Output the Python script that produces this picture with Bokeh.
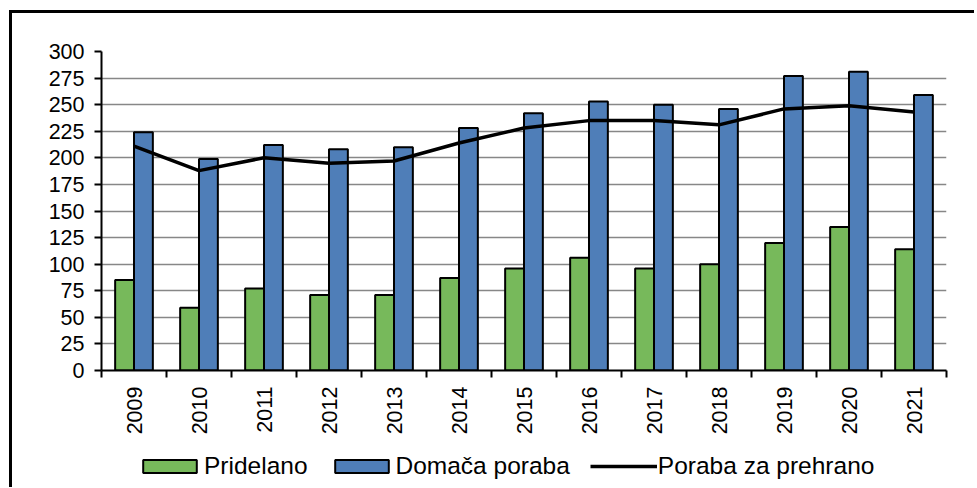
import math
from bokeh.plotting import figure
from bokeh.layouts import column
from bokeh.models import ColumnDataSource, FixedTicker, Legend, LegendItem
from bokeh.embed import file_html
from bokeh.resources import INLINE

years = ["2009", "2010", "2011", "2012", "2013", "2014", "2015", "2016", "2017", "2018", "2019", "2020", "2021"]
pridelano = [85, 59, 77, 71, 71, 87, 96, 106, 96, 100, 120, 135, 114]
domaca_poraba = [224, 199, 212, 208, 210, 228, 242, 253, 250, 246, 277, 281, 259]
poraba_za_prehrano = [211, 188, 200, 195, 197, 214, 228, 235, 235, 231, 246, 249, 243]
y_ticks = list(range(0, 301, 25))

GREEN = "#77b95b"
BLUE = "#4f7eb8"
FONT = "Liberation Sans"

n = len(years)
centers = [i + 0.5 for i in range(n)]
bw = 0.29
src = ColumnDataSource(dict(
    xg=[c - bw / 2 for c in centers],
    xb=[c + bw / 2 for c in centers],
    xc=centers,
    g=pridelano, b=domaca_poraba, l=poraba_za_prehrano,
))

p = figure(width=962, height=430, output_backend="svg", toolbar_location=None,
           x_range=(0, n), y_range=(0, 300),
           min_border_left=89, min_border_right=28, min_border_top=38, min_border_bottom=73)
p.outline_line_color = None

p.vbar(x="xg", width=bw, top="g", bottom=0, source=src,
       fill_color=GREEN, line_color="black", line_width=2)
p.vbar(x="xb", width=bw, top="b", bottom=0, source=src,
       fill_color=BLUE, line_color="black", line_width=2)
p.line(x="xc", y="l", source=src, line_color="black", line_width=3.5)

# axes
p.xaxis.ticker = FixedTicker(ticks=centers, minor_ticks=list(range(n + 1)))
p.xaxis.major_label_overrides = {c: y for c, y in zip(centers, years)}
p.xaxis.major_label_orientation = math.pi / 2
p.xaxis.major_tick_out = 0
p.xaxis.major_tick_in = 0
p.xaxis.minor_tick_out = 7
p.xaxis.minor_tick_in = 0
p.xaxis.minor_tick_line_color = "black"
p.xaxis.minor_tick_line_width = 2
p.xaxis.major_label_standoff = 9

p.yaxis.ticker = FixedTicker(ticks=y_ticks)
p.yaxis.major_tick_out = 7
p.yaxis.major_tick_in = 0
p.yaxis.minor_tick_line_color = None
p.yaxis.major_tick_line_width = 2
p.yaxis.major_label_standoff = 10

for ax in (p.xaxis, p.yaxis):
    ax.axis_line_color = "black"
    ax.axis_line_width = 2
    ax.major_tick_line_color = "black"
    ax.major_label_text_font = FONT
    ax.major_label_text_font_size = "21.5px"
    ax.major_label_text_color = "black"

p.xgrid.grid_line_color = None
p.ygrid.ticker = FixedTicker(ticks=y_ticks[1:])
p.ygrid.grid_line_color = "#878787"
p.ygrid.grid_line_width = 1.5

# legend strip (legend swatches use hidden proxy glyphs)
lf = figure(width=962, height=44, output_backend="svg", toolbar_location=None,
            x_range=(0, 1), y_range=(0, 1), x_axis_type=None, y_axis_type=None,
            min_border_left=0, min_border_right=0, min_border_top=0, min_border_bottom=0)
lf.outline_line_color = None
lf.xgrid.grid_line_color = None
lf.ygrid.grid_line_color = None
proxy = ColumnDataSource(dict(x=[-10], y=[-10]))
lg = lf.vbar(x="x", top="y", bottom=-11, width=0.1, source=proxy,
             fill_color=GREEN, line_color="black", line_width=2)
lb = lf.vbar(x="x", top="y", bottom=-11, width=0.1, source=proxy,
             fill_color=BLUE, line_color="black", line_width=2)
ll = lf.line(x="x", y="y", source=proxy, line_color="black", line_width=3.5)
for r in (lg, lb, ll):
    r.visible = False

legend = Legend(items=[
    LegendItem(label="Pridelano", renderers=[lg]),
    LegendItem(label="Domača poraba", renderers=[lb]),
    LegendItem(label="Poraba za prehrano", renderers=[ll]),
], orientation="horizontal", location=(35, 7))
legend.label_text_font = FONT
legend.label_text_font_size = "24.5px"
legend.label_text_color = "black"
legend.glyph_width = 67
legend.glyph_height = 16
legend.label_standoff = 1
legend.spacing = 20
legend.padding = 0
legend.margin = 0
legend.border_line_color = None
legend.background_fill_alpha = 0
legend.click_policy = "none"
lf.add_layout(legend, "center")

layout = column(p, lf, spacing=0)
layout.styles = {"border-left": "3px solid black", "border-top": "3px solid black",
                 "margin-left": "9px", "margin-top": "10px"}

open("out.html", "w").write(file_html(layout, INLINE))
